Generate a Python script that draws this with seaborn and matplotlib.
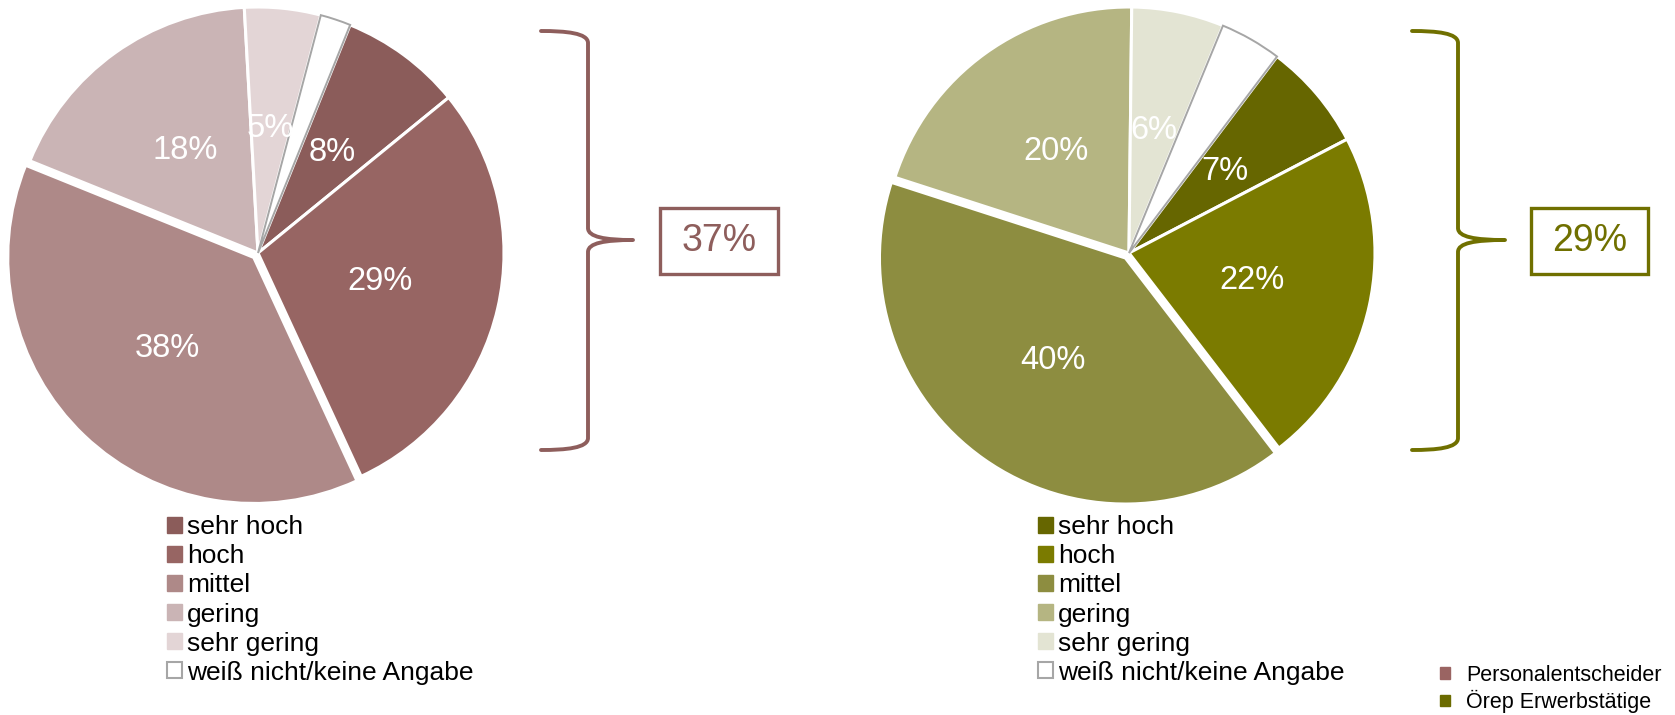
import matplotlib
matplotlib.use("Agg")
import matplotlib.pyplot as plt
import numpy as np
import seaborn as sns
from matplotlib.patches import Patch, Rectangle, PathPatch
from matplotlib.path import Path
from matplotlib.transforms import Affine2D

# ---- data -------------------------------------------------------------
categories = ["sehr hoch", "hoch", "mittel", "gering", "sehr gering",
              "weiß nicht/keine Angabe"]
personal_values = [8, 29, 38, 18, 5, 2]
erwerb_values = [7, 22, 40, 20, 6, 4]
group_names = ["Personalentscheider", "Örep Erwerbstätige"]

personal_colors = ["#8B5C5A", "#976563", "#AE8988", "#CAB4B5", "#E3D5D6", "#FFFFFF"]
erwerb_colors = ["#666600", "#7B7B00", "#8D8D40", "#B5B582", "#E3E4D3", "#FFFFFF"]
accent_colors = ["#8E5E5C", "#707000"]

# ---- style ------------------------------------------------------------
sns.set_theme(style="white")
plt.rcParams["font.family"] = ["Liberation Sans", "DejaVu Sans"]
plt.rcParams["text.color"] = "black"
plt.rcParams["legend.labelcolor"] = "black"

W, H = 1675, 715
fig = plt.figure(figsize=(W / 100, H / 100), dpi=100)
fig.patch.set_facecolor("white")

# pixel coordinates (origin top-left) for annotation shapes
px = Affine2D().scale(1 / W, -1 / H).translate(0, 1) + fig.transFigure

R_PX = 246
LIM = 1.05


def pie_axes(cx, cy):
    side = 2 * LIM * R_PX
    return fig.add_axes([(cx - side / 2) / W, (H - cy - side / 2) / H,
                         side / W, side / H])


def draw_pie(ax, values, colors, startangle):
    explode = [0, 0, 0.025, 0, 0, 0]
    wedges, _ = ax.pie(values, colors=colors, startangle=startangle,
                       counterclock=False, explode=explode,
                       wedgeprops=dict(edgecolor="white", linewidth=2.2))
    # the "don't know" slice is white with a grey outline
    wedges[-1].set_edgecolor("#A6A6A6")
    wedges[-1].set_linewidth(1.4)
    wedges[-1].set_zorder(3)
    for w, v in zip(wedges[:-1], values[:-1]):
        mid = np.deg2rad((w.theta1 + w.theta2) / 2)
        cx, cy = w.center
        ax.text(cx + 0.51 * np.cos(mid), cy + 0.51 * np.sin(mid), f"{v}%",
                ha="center", va="center", color="white", fontsize=23.5, zorder=5)
    ax.set_xlim(-LIM, LIM)
    ax.set_ylim(-LIM, LIM)
    ax.set_aspect("equal")
    ax.axis("off")


def draw_legend(x, y, colors):
    handles = []
    for c in colors[:-1]:
        handles.append(Patch(facecolor=c, edgecolor=c))
    handles.append(Patch(facecolor="white", edgecolor="#A6A6A6", linewidth=1.5))
    leg = fig.legend(handles, categories, loc="center left",
                     bbox_to_anchor=(x / W, 1 - y / H), frameon=False,
                     fontsize=19, handlelength=0.57, handleheight=0.57,
                     handletextpad=0.2, labelspacing=0.19,
                     borderpad=0, borderaxespad=0)
    return leg


def draw_brace(x0, xv, xt, ytop, ymid, ybot, color, total, box):
    verts = [(x0, ytop), (x0 + 25, ytop), (xv, ytop + 2), (xv, ytop + 12),
             (xv, ymid - 12),
             (xv, ymid - 3), (xv + 17, ymid), (xt, ymid),
             (xv + 17, ymid), (xv, ymid + 3), (xv, ymid + 12),
             (xv, ybot - 12),
             (xv, ybot - 2), (x0 + 25, ybot), (x0, ybot)]
    codes = [Path.MOVETO, Path.CURVE4, Path.CURVE4, Path.CURVE4,
             Path.LINETO,
             Path.CURVE4, Path.CURVE4, Path.CURVE4,
             Path.CURVE4, Path.CURVE4, Path.CURVE4,
             Path.LINETO,
             Path.CURVE4, Path.CURVE4, Path.CURVE4]
    fig.add_artist(PathPatch(Path(verts, codes), facecolor="none",
                             edgecolor=color, linewidth=2.8,
                             capstyle="round", joinstyle="round", transform=px))
    bx0, by0, bx1, by1 = box
    fig.add_artist(Rectangle((bx0, by0), bx1 - bx0, by1 - by0, facecolor="white",
                             edgecolor=color, linewidth=2.4, transform=px))
    fig.text((bx0 + bx1) / 2 / W, 1 - (by0 + by1) / 2 / H, f"{total}%",
             ha="center", va="center", color=color, fontsize=27)


# ---- left pie: Personalentscheider -----------------------------------
ax1 = pie_axes(258, 253)
draw_pie(ax1, personal_values, personal_colors, startangle=68)
draw_legend(167, 600, personal_colors)
draw_brace(541, 588, 633, 31, 240, 450, accent_colors[0],
           personal_values[0] + personal_values[1], (660, 208, 778, 274))

# ---- right pie: Erwerbstätige ------------------------------------------
ax2 = pie_axes(1129, 253)
draw_pie(ax2, erwerb_values, erwerb_colors, startangle=53)
draw_legend(1038, 600, erwerb_colors)
draw_brace(1412, 1458, 1505, 31, 240, 450, accent_colors[1],
           erwerb_values[0] + erwerb_values[1], (1531, 208, 1648, 274))

# ---- group legend ------------------------------------------------------
group_handles = [Patch(facecolor="#9A6462", edgecolor="#9A6462"),
                 Patch(facecolor="#6B6B00", edgecolor="#6B6B00")]
fig.legend(group_handles, group_names, loc="center left",
           bbox_to_anchor=(1440 / W, 1 - 689 / H), frameon=False,
           fontsize=15.5, handlelength=0.47, handleheight=0.47,
           handletextpad=0.75, labelspacing=0.2, borderpad=0, borderaxespad=0)

fig.savefig("out.png", dpi=100, facecolor="white")
